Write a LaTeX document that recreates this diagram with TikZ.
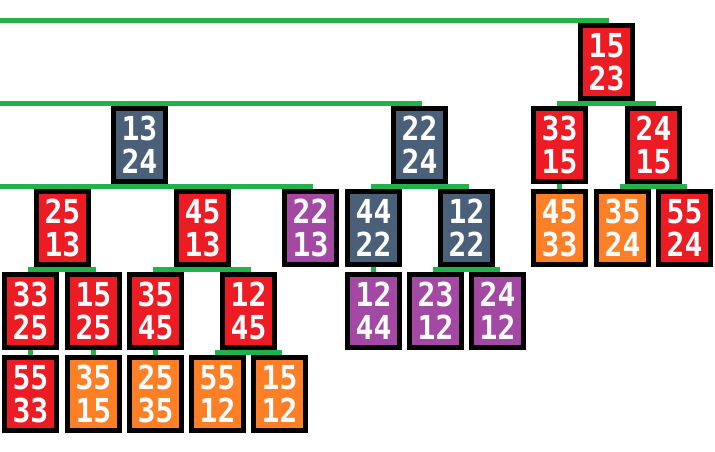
\documentclass[tikz,border=0pt]{standalone}
\usepackage{fontspec}
\newfontfamily\digitfont{DejaVu Sans Mono}[FakeStretch=0.9]
\usepackage{tikz}
\usepackage{xcolor}
\definecolor{keyred}{RGB}{237,28,36}
\definecolor{keyorange}{RGB}{255,127,39}
\definecolor{keypurple}{RGB}{163,73,164}
\definecolor{keyslate}{RGB}{74,96,121}
\definecolor{linkgreen}{RGB}{34,177,76}

\begin{document}
\begin{tikzpicture}[x=1pt, y=-1pt,
    key/.style={draw=black, line width=5pt, minimum width=52pt, minimum height=73pt,
        inner sep=0pt, outer sep=2.5pt, text=white, align=right,
        font=\digitfont\bfseries\fontsize{33}{33}\selectfont},
    rkey/.style={key, fill=keyred},
    okey/.style={key, fill=keyorange},
    pkey/.style={key, fill=keypurple},
    skey/.style={key, fill=keyslate},
    link/.style={draw=linkgreen, line width=5pt, line cap=rect},
    drop/.style={draw=linkgreen, line width=5pt}]
    \useasboundingbox (0,0) rectangle (715,452);
    % row 1
    \node[rkey] (k1523) at (606.5,62) {15\\23};
    % row 2
    \node[skey] (k1324) at (139.5,145) {13\\24};
    \node[skey] (k2224) at (419.5,145) {22\\24};
    \node[rkey] (k3315) at (559.5,145) {33\\15};
    \node[rkey] (k2415) at (653.5,145) {24\\15};
    % row 3
    \node[rkey] (k2513) at (62.5,228) {25\\13};
    \node[rkey] (k4513) at (202.5,228) {45\\13};
    \node[pkey] (k2213) at (310.5,228) {22\\13};
    \node[skey] (k4422) at (373.5,228) {44\\22};
    \node[skey] (k1222) at (466.5,228) {12\\22};
    \node[okey] (k4533) at (559.5,228) {45\\33};
    \node[okey] (k3524) at (622.5,228) {35\\24};
    \node[rkey] (k5524) at (684.5,228) {55\\24};
    % row 4
    \node[rkey] (k3325) at (30.5,311) {33\\25};
    \node[rkey] (k1525) at (93.5,311) {15\\25};
    \node[rkey] (k3545) at (155.5,311) {35\\45};
    \node[rkey] (k1245) at (248.5,311) {12\\45};
    \node[pkey] (k1244) at (373.5,311) {12\\44};
    \node[pkey] (k2312) at (435.5,311) {23\\12};
    \node[pkey] (k2412) at (497.5,311) {24\\12};
    % row 5
    \node[rkey] (k5533) at (30.5,394) {55\\33};
    \node[okey] (k3515) at (93.5,394) {35\\15};
    \node[okey] (k2535) at (155.5,394) {25\\35};
    \node[okey] (k5512) at (217.5,394) {55\\12};
    \node[okey] (k1512) at (279.5,394) {15\\12};
    % links
    \coordinate (left1) at (0,20.5);
    \coordinate (left2) at (0,103.5);
    \coordinate (left3) at (0,186.5);
    \draw[link] (left1) -- (left1 -| k1523.north);
    \draw[link] (left2) -- (left2 -| k2224.north);
    \draw[link] (left3) -- (left3 -| k2213.north);
    \foreach \a/\b in {3315/2415, 4422/1222, 3524/5524, 3325/1525, 3545/1245, 2312/2412, 5512/1512}
        \draw[link] ([yshift=2.5pt]k\a.north) -- ([yshift=2.5pt]k\b.north);
    \foreach \p/\c in {3315/4533, 4422/1244, 3325/5533, 1525/3515, 3545/2535}
        \draw[drop] (k\p.south) -- (k\c.north);
\end{tikzpicture}
\end{document}
